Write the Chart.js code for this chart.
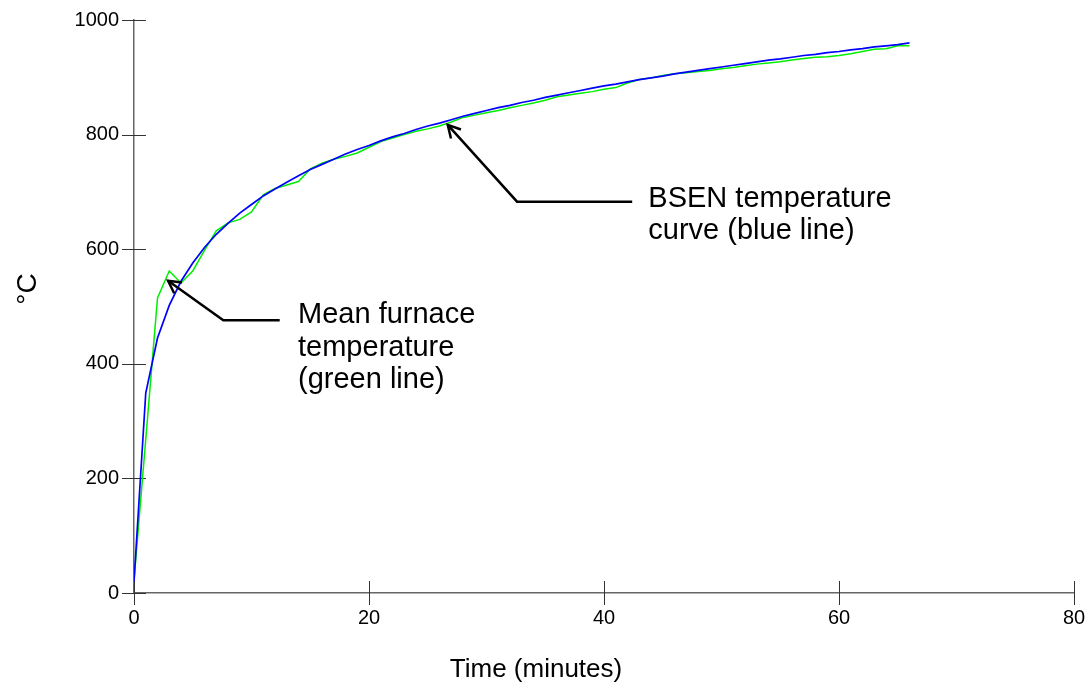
<!DOCTYPE html>
<html>
<head>
<meta charset="utf-8">
<title>Furnace temperature</title>
<script src="https://cdn.jsdelivr.net/npm/chart.js@4.4.1/dist/chart.umd.min.js"></script>
<style>
    html, body { margin: 0; padding: 0; background: #ffffff; }
    #wrap { width: 1090px; height: 686px; position: relative; }
</style>
</head>
<body>
<div id="wrap"><canvas id="furnaceChart"></canvas></div>
<script>
// time in minutes
const minutes = [0, 1, 2, 3, 4, 5, 6, 7, 8, 9, 10, 11, 12, 13, 14, 15, 16, 17, 18, 19, 20,
    21, 22, 23, 24, 25, 26, 27, 28, 29, 30, 31, 32, 33, 34, 35, 36, 37, 38, 39, 40,
    41, 42, 43, 44, 45, 46, 47, 48, 49, 50, 51, 52, 53, 54, 55, 56, 57, 58, 59, 60,
    61, 62, 63, 64, 65, 66];

// BSEN standard curve (blue)
const bsenTemp = [20, 349, 445, 502, 544, 576, 603, 626, 645, 663, 678, 693, 705, 717, 728, 739, 748, 757, 766, 774, 781,
    789, 796, 802, 809, 815, 820, 826, 832, 837, 842, 847, 851, 856, 860, 865, 869, 873, 877, 881, 885,
    888, 892, 896, 899, 902, 906, 909, 912, 915, 918, 921, 924, 927, 930, 932, 935, 938, 940, 943, 945,
    948, 950, 953, 955, 957, 960];

// mean furnace temperature (green)
const furnaceTemp = [22, 268, 515, 562, 541, 562, 598, 632, 646, 652, 665, 695, 706, 712, 718, 740, 750, 757, 762, 768, 778,
    788, 794, 800, 806, 810, 815, 822, 830, 834, 838, 842, 847, 851, 855, 860, 866, 869, 872, 875, 879,
    882, 890, 896, 899, 903, 906, 908, 910, 912, 915, 917, 920, 923, 925, 927, 930, 933, 935, 936, 938,
    941, 945, 949, 950, 955, 955];

const xTickValues = [0, 20, 40, 60, 80];
const yTickValues = [0, 200, 400, 600, 800, 1000];

// callouts, in data units: arrow tip, elbow, line end, text start
const greenNote = { tip: [2.9, 545], elbow: [7.6, 476], end: [12.4, 476], at: [13.96, 471],
    lines: ['Mean furnace', 'temperature', '(green line)'] };
const blueNote = { tip: [26.7, 817], elbow: [32.6, 683], end: [42.4, 683], at: [43.77, 674],
    lines: ['BSEN temperature', 'curve (blue line)'] };

const FONT = '"Liberation Sans", Arial, sans-serif';

function toPoints(xs, ys) {
    return xs.map((t, i) => ({ x: t, y: ys[i] }));
}

// tick marks that cross the axis lines
const crossTicks = {
    id: 'crossTicks',
    beforeDatasetsDraw(chart) {
        const { ctx, chartArea, scales } = chart;
        ctx.save();
        ctx.strokeStyle = '#333333';
        ctx.lineWidth = 1;
        ctx.beginPath();
        scales.x.ticks.forEach(t => {
            const px = Math.round(scales.x.getPixelForValue(t.value)) + 0.5;
            ctx.moveTo(px, chartArea.bottom - 12);
            ctx.lineTo(px, chartArea.bottom + 12);
        });
        scales.y.ticks.forEach(t => {
            const py = Math.round(scales.y.getPixelForValue(t.value)) + 0.5;
            ctx.moveTo(chartArea.left - 12, py);
            ctx.lineTo(chartArea.left + 12, py);
        });
        ctx.stroke();
        ctx.restore();
    }
};

function drawNote(chart, note) {
    const { ctx, scales: { x, y } } = chart;
    const p = v => [x.getPixelForValue(v[0]), y.getPixelForValue(v[1])];
    const tip = p(note.tip), elbow = p(note.elbow), end = p(note.end), at = p(note.at);

    ctx.strokeStyle = '#000000';
    ctx.lineWidth = 2.5;
    ctx.lineJoin = 'miter';
    ctx.beginPath();
    ctx.moveTo(end[0], end[1]);
    ctx.lineTo(elbow[0], elbow[1]);
    ctx.lineTo(tip[0], tip[1]);
    ctx.stroke();

    // open arrow head
    const ang = Math.atan2(elbow[1] - tip[1], elbow[0] - tip[0]);
    const len = 14, spread = 0.5;
    ctx.beginPath();
    ctx.moveTo(tip[0] + len * Math.cos(ang - spread), tip[1] + len * Math.sin(ang - spread));
    ctx.lineTo(tip[0], tip[1]);
    ctx.lineTo(tip[0] + len * Math.cos(ang + spread), tip[1] + len * Math.sin(ang + spread));
    ctx.stroke();

    ctx.fillStyle = '#000000';
    ctx.font = '29px ' + FONT;
    ctx.textAlign = 'left';
    ctx.textBaseline = 'alphabetic';
    note.lines.forEach((s, i) => ctx.fillText(s, at[0], at[1] + i * 32.5));
}

const notesAndTitles = {
    id: 'notesAndTitles',
    afterDraw(chart) {
        const { ctx } = chart;
        ctx.save();
        drawNote(chart, greenNote);
        drawNote(chart, blueNote);

        ctx.fillStyle = '#000000';
        ctx.font = '26px ' + FONT;
        ctx.textAlign = 'center';
        ctx.textBaseline = 'alphabetic';
        ctx.fillText('Time (minutes)', 536, 677);

        ctx.translate(36, 289);
        ctx.rotate(-Math.PI / 2);
        ctx.font = '28px ' + FONT;
        ctx.fillText('°C', 0, 0);
        ctx.restore();
    }
};

new Chart(document.getElementById('furnaceChart').getContext('2d'), {
    type: 'line',
    data: {
        datasets: [{
            label: 'BSEN temperature curve',
            data: toPoints(minutes, bsenTemp),
            borderColor: '#0000ff',
            borderWidth: 1.7,
            pointRadius: 0,
            tension: 0,
            fill: false
        }, {
            label: 'Mean furnace temperature',
            data: toPoints(minutes, furnaceTemp),
            borderColor: '#00ee00',
            borderWidth: 1.5,
            pointRadius: 0,
            tension: 0,
            fill: false
        }]
    },
    options: {
        responsive: true,
        maintainAspectRatio: false,
        animation: false,
        layout: { padding: { top: 20, right: 16, left: 0, bottom: 0 } },
        plugins: {
            legend: { display: false },
            tooltip: { enabled: false }
        },
        scales: {
            x: {
                type: 'linear',
                min: 0,
                max: 80,
                afterBuildTicks: scale => { scale.ticks = xTickValues.map(v => ({ value: v })); },
                afterFit: scale => {
                    scale.height = 93;
                    scale.paddingLeft = 0;
                    scale.paddingRight = 0;
                },
                grid: { display: false, drawTicks: false },
                border: { display: true, color: '#666666', width: 1.5 },
                ticks: {
                    color: '#000000',
                    padding: 13,
                    font: { family: FONT, size: 20 },
                    callback: v => String(v)
                }
            },
            y: {
                type: 'linear',
                min: 0,
                max: 1000,
                afterBuildTicks: scale => { scale.ticks = yTickValues.map(v => ({ value: v })); },
                afterFit: scale => {
                    scale.width = 134;
                    scale.paddingTop = 0;
                    scale.paddingBottom = 0;
                },
                grid: { display: false, drawTicks: false },
                border: { display: true, color: '#666666', width: 1.5 },
                ticks: {
                    color: '#000000',
                    padding: 15,
                    font: { family: FONT, size: 20 },
                    callback: v => String(v)
                }
            }
        }
    },
    plugins: [crossTicks, notesAndTitles]
});
</script>
</body>
</html>
